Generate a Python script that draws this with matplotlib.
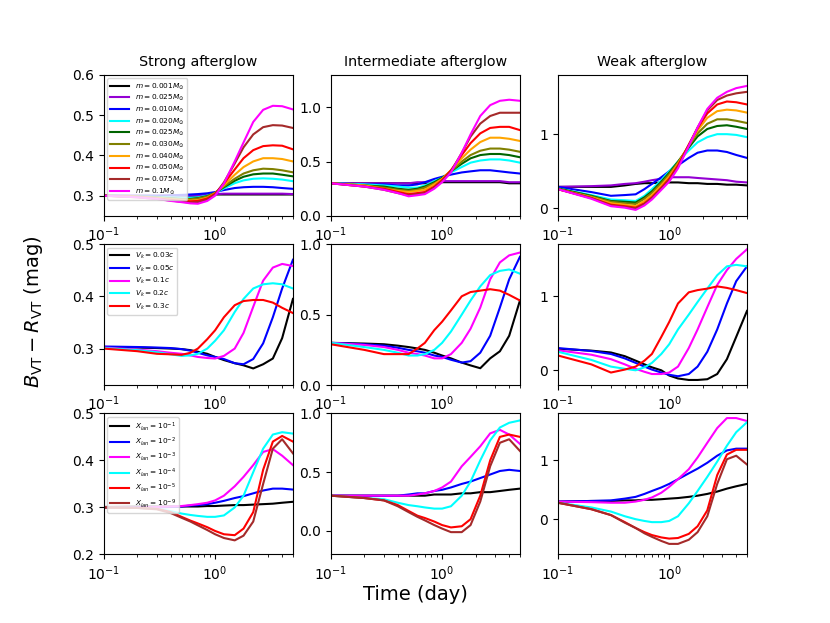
import numpy as np
import matplotlib
matplotlib.use("Agg")
import matplotlib.pyplot as plt

# sampling times (day)
t_day = [0.1, 0.2, 0.3, 0.4, 0.5, 0.6, 0.7, 0.85, 1.0, 1.2, 1.5, 1.8, 2.2, 2.7, 3.3, 4.0, 5.0]

col_titles = ["Strong afterglow", "Intermediate afterglow", "Weak afterglow"]

mass_labels = [r"$m = 0.001M_{\odot}$", r"$m = 0.025M_{\odot}$", r"$m = 0.010M_{\odot}$",
               r"$m = 0.020M_{\odot}$", r"$m = 0.025M_{\odot}$", r"$m = 0.030M_{\odot}$",
               r"$m = 0.040M_{\odot}$", r"$m = 0.050M_{\odot}$", r"$m = 0.075M_{\odot}$",
               r"$m = 0.1M_{\odot}$"]
mass_colors = ["black", "darkviolet", "blue", "cyan", "darkgreen", "olive",
               "orange", "red", "brown", "magenta"]

vk_labels = [r"$V_k = 0.03c$", r"$V_k = 0.05c$", r"$V_k = 0.1c$", r"$V_k = 0.2c$", r"$V_k = 0.3c$"]
vk_colors = ["black", "blue", "magenta", "cyan", "red"]

xlan_labels = [r"$X_{lan} = 10^{-1}$", r"$X_{lan} = 10^{-2}$", r"$X_{lan} = 10^{-3}$",
               r"$X_{lan} = 10^{-4}$", r"$X_{lan} = 10^{-5}$", r"$X_{lan} = 10^{-9}$"]
xlan_colors = ["black", "blue", "magenta", "cyan", "red", "brown"]

strong_mass = [
    [.300, .299, .298, .298, .298, .298, .299, .301, .303, .303, .303, .303, .303, .303, .303, .303, .303],
    [.300, .300, .300, .300, .300, .300, .301, .302, .304, .305, .305, .305, .305, .305, .305, .305, .304],
    [.300, .300, .300, .301, .302, .303, .304, .306, .309, .314, .319, .321, .322, .322, .321, .319, .317],
    [.300, .298, .297, .296, .295, .295, .296, .300, .306, .318, .331, .338, .342, .343, .342, .340, .336],
    [.300, .298, .296, .294, .292, .292, .294, .299, .307, .321, .337, .347, .353, .355, .355, .352, .348],
    [.300, .298, .295, .293, .291, .291, .293, .298, .307, .323, .342, .355, .363, .367, .366, .363, .358],
    [.300, .297, .294, .291, .289, .288, .289, .295, .306, .326, .352, .371, .385, .393, .393, .391, .385],
    [.300, .297, .293, .290, .287, .286, .287, .293, .305, .330, .365, .393, .413, .423, .425, .424, .415],
    [.300, .296, .292, .288, .285, .283, .284, .290, .303, .333, .380, .420, .452, .470, .475, .474, .468],
    [.300, .296, .292, .287, .284, .281, .280, .287, .300, .330, .385, .432, .483, .513, .523, .522, .514],
]
inter_mass = [
    [.30, .30, .30, .30, .30, .30, .30, .30, .31, .31, .31, .31, .31, .31, .31, .30, .30],
    [.30, .30, .30, .30, .30, .31, .31, .32, .32, .32, .32, .32, .32, .32, .32, .31, .31],
    [.30, .29, .29, .28, .28, .29, .31, .34, .36, .38, .40, .41, .42, .42, .41, .40, .39],
    [.30, .29, .28, .27, .26, .26, .28, .32, .35, .40, .45, .49, .51, .52, .52, .51, .49],
    [.30, .28, .27, .25, .24, .25, .27, .31, .35, .41, .48, .53, .56, .57, .57, .56, .54],
    [.30, .28, .26, .24, .23, .24, .26, .30, .34, .41, .50, .56, .60, .62, .62, .61, .59],
    [.30, .28, .25, .23, .22, .23, .24, .29, .34, .42, .53, .61, .68, .72, .72, .71, .69],
    [.30, .27, .25, .22, .20, .21, .22, .27, .33, .42, .56, .67, .76, .81, .82, .82, .79],
    [.30, .27, .24, .21, .19, .20, .21, .26, .32, .41, .58, .73, .85, .92, .95, .95, .95],
    [.30, .27, .24, .21, .18, .19, .20, .25, .31, .40, .58, .75, .92, 1.02, 1.06, 1.07, 1.06],
]
weak_mass = [
    [.29, .29, .29, .31, .33, .34, .34, .35, .35, .35, .34, .34, .33, .33, .32, .32, .31],
    [.29, .30, .31, .33, .34, .36, .38, .40, .42, .42, .42, .41, .40, .39, .38, .36, .35],
    [.29, .22, .17, .18, .19, .26, .33, .42, .50, .58, .68, .75, .78, .78, .76, .72, .68],
    [.27, .18, .12, .11, .10, .17, .26, .38, .50, .63, .78, .89, .96, 1.00, 1.00, .99, .96],
    [.27, .17, .10, .09, .08, .15, .23, .36, .48, .63, .82, .97, 1.07, 1.11, 1.12, 1.10, 1.07],
    [.26, .16, .09, .07, .06, .13, .21, .34, .46, .62, .84, 1.01, 1.14, 1.20, 1.20, 1.18, 1.15],
    [.26, .15, .07, .05, .03, .10, .18, .31, .43, .60, .85, 1.05, 1.22, 1.31, 1.33, 1.32, 1.29],
    [.26, .14, .05, .03, .01, .07, .15, .28, .40, .58, .86, 1.08, 1.28, 1.40, 1.44, 1.43, 1.40],
    [.26, .14, .04, .02, .00, .06, .14, .27, .38, .56, .85, 1.09, 1.32, 1.46, 1.52, 1.55, 1.57],
    [.26, .13, .03, .01, -.02, .04, .12, .25, .36, .54, .84, 1.09, 1.34, 1.49, 1.57, 1.62, 1.65],
]

strong_vk = [
    [.303, .302, .301, .300, .299, .297, .294, .290, .284, .278, .272, .268, .262, .270, .281, .320, .395],
    [.304, .303, .302, .301, .299, .296, .292, .287, .284, .280, .272, .270, .280, .310, .360, .415, .470],
    [.302, .298, .295, .292, .290, .287, .284, .282, .281, .286, .300, .330, .380, .430, .455, .462, .458],
    [.301, .297, .293, .289, .286, .287, .290, .300, .315, .335, .370, .395, .415, .423, .425, .423, .415],
    [.300, .295, .290, .289, .288, .292, .300, .318, .335, .360, .383, .391, .393, .393, .388, .378, .368],
]
inter_vk = [
    [.30, .295, .29, .28, .27, .26, .25, .23, .21, .19, .16, .14, .12, .19, .24, .35, .60],
    [.30, .29, .28, .265, .25, .24, .23, .21, .20, .18, .16, .17, .23, .35, .55, .75, .91],
    [.30, .285, .27, .25, .23, .22, .21, .19, .19, .22, .30, .40, .55, .75, .87, .92, .94],
    [.30, .27, .25, .23, .21, .21, .22, .25, .30, .38, .50, .60, .70, .78, .81, .82, .79],
    [.29, .25, .22, .22, .22, .26, .30, .39, .45, .53, .63, .66, .67, .68, .67, .64, .60],
]
weak_vk = [
    [.29, .265, .24, .19, .13, .08, .04, .00, -.07, -.11, -.13, -.13, -.12, -.05, .15, .45, .80],
    [.30, .26, .22, .16, .10, .05, .01, -.03, -.06, -.08, -.05, .05, .25, .55, .90, 1.20, 1.40],
    [.27, .21, .15, .08, .02, -.02, -.05, -.05, -.03, .05, .30, .55, .85, 1.15, 1.35, 1.50, 1.63],
    [.25, .14, .05, .02, .00, .04, .10, .22, .35, .55, .75, .92, 1.10, 1.28, 1.40, 1.42, 1.40],
    [.20, .08, -.03, .01, .05, .13, .22, .45, .65, .90, 1.05, 1.08, 1.10, 1.13, 1.11, 1.08, 1.04],
]

strong_xlan = [
    [.301, .302, .302, .302, .302, .302, .302, .303, .303, .304, .305, .305, .306, .307, .308, .310, .312],
    [.300, .300, .300, .301, .302, .304, .305, .307, .310, .314, .320, .324, .330, .336, .340, .340, .338],
    [.300, .300, .301, .302, .303, .305, .307, .310, .315, .325, .345, .365, .390, .418, .424, .410, .390],
    [.300, .299, .297, .292, .287, .284, .282, .280, .280, .283, .300, .325, .375, .425, .455, .460, .457],
    [.300, .299, .297, .290, .280, .272, .266, .258, .250, .243, .241, .255, .290, .380, .440, .452, .440],
    [.300, .299, .296, .288, .278, .270, .262, .252, .243, .235, .230, .240, .270, .350, .425, .445, .415],
]
inter_xlan = [
    [.30, .30, .30, .30, .30, .30, .30, .31, .31, .31, .32, .32, .33, .33, .34, .35, .36],
    [.30, .30, .30, .30, .31, .32, .32, .34, .35, .37, .40, .42, .45, .48, .51, .52, .51],
    [.30, .30, .30, .30, .30, .31, .32, .34, .37, .42, .55, .63, .72, .83, .86, .82, .74],
    [.30, .28, .27, .24, .22, .21, .20, .19, .19, .21, .30, .42, .60, .77, .88, .92, .94],
    [.30, .28, .26, .22, .17, .13, .11, .08, .05, .03, .04, .10, .30, .60, .80, .82, .80],
    [.30, .28, .26, .21, .16, .12, .09, .05, .02, -.01, -.01, .05, .25, .55, .75, .78, .68],
]
weak_xlan = [
    [.30, .31, .31, .32, .32, .33, .33, .34, .35, .36, .38, .40, .43, .47, .52, .56, .60],
    [.30, .31, .32, .35, .38, .43, .48, .54, .60, .68, .78, .86, .96, 1.08, 1.17, 1.20, 1.20],
    [.30, .29, .28, .28, .30, .33, .37, .45, .55, .68, .85, 1.05, 1.30, 1.55, 1.72, 1.72, 1.67],
    [.28, .20, .13, .05, .00, -.03, -.05, -.05, -.03, .05, .27, .48, .72, .98, 1.25, 1.48, 1.65],
    [.28, .17, .07, -.05, -.15, -.22, -.27, -.31, -.33, -.32, -.25, -.12, .15, .75, 1.10, 1.18, 1.18],
    [.28, .17, .07, -.06, -.15, -.24, -.30, -.37, -.42, -.42, -.35, -.22, .05, .60, 1.02, 1.08, .93],
]

rows = [
    (mass_labels, mass_colors, [strong_mass, inter_mass, weak_mass]),
    (vk_labels, vk_colors, [strong_vk, inter_vk, weak_vk]),
    (xlan_labels, xlan_colors, [strong_xlan, inter_xlan, weak_xlan]),
]
ylims = [[(0.25, 0.6), (0.0, 1.3), (-0.1, 1.8)],
         [(0.23, 0.5), (0.0, 1.0), (-0.2, 1.7)],
         [(0.2, 0.5), (-0.2, 1.0), (-0.6, 1.8)]]
yticks = [[[0.3, 0.4, 0.5, 0.6], [0.0, 0.5, 1.0], [0, 1]],
          [[0.3, 0.4, 0.5], [0.0, 0.5, 1.0], [0, 1]],
          [[0.2, 0.3, 0.4, 0.5], [0.0, 0.5, 1.0], [0, 1]]]
leg_spacing = [0.2, 0.35, 0.4]

fig, axes = plt.subplots(3, 3, figsize=(8.3, 6.23), dpi=100)
for i, (labels, colors, panels) in enumerate(rows):
    for j, series in enumerate(panels):
        ax = axes[i, j]
        for lab, c, y in zip(labels, colors, series):
            ax.plot(t_day, y, color=c, lw=1.5, label=lab)
        ax.set_xscale("log")
        ax.set_xlim(0.1, 5.0)
        ax.set_ylim(*ylims[i][j])
        ax.set_yticks(yticks[i][j])
        if i == 0:
            ax.set_title(col_titles[j], fontsize=10.3)
        if j == 0:
            ax.legend(loc="upper left", fontsize=5.3, handlelength=2.5,
                      labelspacing=leg_spacing[i])

fig.text(0.04, 0.5, r"$B_{\rm VT} - R_{\rm VT}$ (mag)", rotation=90,
         ha="center", va="center", fontsize=14)
fig.text(0.5, 0.045, "Time (day)", ha="center", va="center", fontsize=14)
fig.savefig("out.png", dpi=100)
